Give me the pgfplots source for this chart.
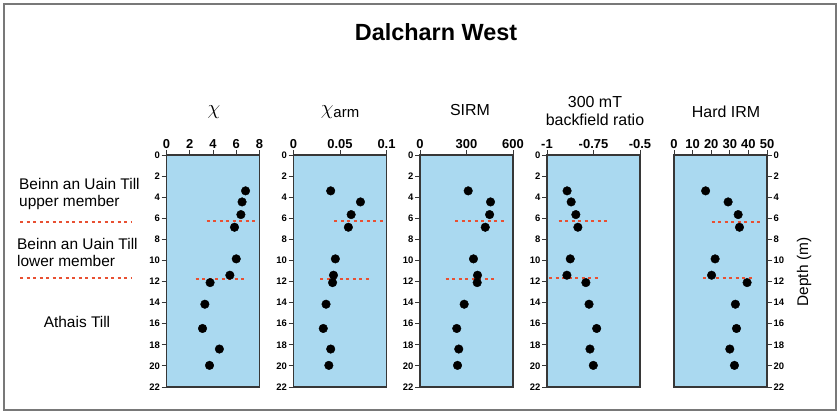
\documentclass[border=0pt]{standalone}
\usepackage{fontspec}
\setmainfont{Liberation Sans}
\usepackage{pgfplots}
\pgfplotsset{compat=1.18}
\definecolor{panelblue}{RGB}{170,217,240}
\definecolor{bndred}{RGB}{232,80,50}
\definecolor{axisgray}{RGB}{55,55,55}
\definecolor{framegray}{RGB}{120,120,120}
\pgfplotsset{
 panel/.style={
  scale only axis, width=93bp, height=232bp, anchor=south west,
  y dir=reverse, ymin=0, ymax=22, ytick={0,2,...,22},
  xtick pos=upper, xticklabel pos=upper,
  tick align=outside, major tick length=5bp,
  axis line style={axisgray, line width=1.1bp},
  every tick/.style={axisgray, line width=0.9bp},
  axis background/.style={fill=panelblue},
  /pgf/number format/assume math mode=true,
  yticklabel style={font=\fontsize{9.5}{11}\selectfont\bfseries, inner sep=1.5bp},
  xticklabel style={font=\fontsize{13}{15}\selectfont\bfseries, inner sep=1bp},
  clip=false,
 },
 pts/.style={only marks, mark=*, mark size=4.3bp, black},
 bnd/.style={bndred, line width=2bp, dash pattern=on 3bp off 3.5bp, no marks},
}
\pgfplotstableread{
d chi chiarm sirm bf hirm
3.4 6.8 0.040 311 -0.892 17.0
4.45 6.5 0.072 455 -0.870 29.1
5.65 6.4 0.062 449 -0.845 34.5
6.85 5.85 0.059 421 -0.834 35.2
9.85 6.0 0.045 345 -0.875 22.1
11.4 5.45 0.043 371 -0.893 20.2
12.1 3.75 0.042 369 -0.791 39.3
14.15 3.3 0.035 285 -0.774 33.0
16.45 3.1 0.032 237 -0.733 33.6
18.4 4.55 0.040 250 -0.769 30.0
19.95 3.7 0.038 242 -0.751 32.5
}\datatab
\begin{document}
\begin{tikzpicture}
\path (0,0) rectangle (838bp,414bp);
\draw[framegray, line width=2bp] (4bp,4bp) rectangle (835.5bp,409.5bp);
% panel 1
\begin{axis}[panel, at={(166.5bp,27bp)}, xmin=0, xmax=8, xtick={0,2,4,6,8}, xticklabels={0,2,4,6,8}, ytick pos=left]
\addplot[pts] table[x=chi, y=d] {\datatab};
\addplot[bnd] coordinates {(3.45,6.3) (7.7,6.3)};
\addplot[bnd] coordinates {(2.5,11.8) (6.7,11.8)};
\end{axis}
% panel 2
\begin{axis}[panel, at={(293.5bp,27bp)}, xmin=0, xmax=0.1, xtick={0,0.05,0.1}, xticklabels={0,0.05,0.1}, ytick pos=left]
\addplot[pts] table[x=chiarm, y=d] {\datatab};
\addplot[bnd] coordinates {(0.044,6.3) (0.0985,6.3)};
\addplot[bnd] coordinates {(0.029,11.75) (0.083,11.75)};
\end{axis}
% panel 3
\begin{axis}[panel, at={(420bp,27bp)}, xmin=0, xmax=600, xtick={0,300,600}, xticklabels={0,300,600}, ytick pos=left]
\addplot[pts] table[x=sirm, y=d] {\datatab};
\addplot[bnd] coordinates {(227,6.3) (550,6.3)};
\addplot[bnd] coordinates {(166,11.8) (490,11.8)};
\end{axis}
% panel 4
\begin{axis}[panel, at={(547bp,27bp)}, xmin=-1, xmax=-0.5, xtick={-1,-0.75,-0.5}, xticklabels={-1,-0.75,-0.5}, ytick pos=left]
\addplot[pts] table[x=bf, y=d] {\datatab};
\addplot[bnd] coordinates {(-0.937,6.3) (-0.666,6.3)};
\addplot[bnd] coordinates {(-0.989,11.65) (-0.718,11.65)};
\end{axis}
% panel 5
\begin{axis}[panel, at={(674bp,27bp)}, xmin=0, xmax=50, xtick={0,10,...,50}, xticklabels={0,10,20,30,40,50}, ytick pos=right, yticklabel pos=right]
\addplot[pts] table[x=hirm, y=d] {\datatab};
\addplot[bnd] coordinates {(20.2,6.35) (47,6.35)};
\addplot[bnd] coordinates {(15.7,11.7) (42.9,11.7)};
\end{axis}
% titles
\node[font=\fontsize{23.5}{26}\selectfont\bfseries] at (436bp,382bp) {Dalcharn West};
\node[font=\fontsize{21}{22}\selectfont] at (214bp,302bp) {$\chi$};
\node[inner sep=0pt] at (340bp,302bp) {{\fontsize{21}{22}\selectfont$\chi$}\raisebox{-0.5ex}{\fontsize{15}{17}\selectfont arm}};
\node[font=\fontsize{16}{18}\selectfont] at (470bp,304bp) {SIRM};
\node[font=\fontsize{16}{18.5}\selectfont, align=center] at (595bp,303bp) {300 mT\\backfield ratio};
\node[font=\fontsize{16}{18}\selectfont] at (726bp,302bp) {Hard IRM};
\node[font=\fontsize{15.5}{18}\selectfont, rotate=90] at (804bp,142bp) {Depth (m)};
% unit labels
\node[font=\fontsize{15.5}{18}\selectfont, align=left, anchor=west, inner sep=0pt] at (19bp,220bp) {Beinn an Uain Till\\upper member};
\node[font=\fontsize{15.5}{18}\selectfont, align=left, anchor=west, inner sep=0pt] at (17bp,161.5bp) {Beinn an Uain Till\\lower member};
\node[font=\fontsize{15.5}{18}\selectfont] at (77bp,92bp) {Athais Till};
\draw[bndred, line width=2bp, dash pattern=on 3bp off 3.5bp] (20bp,192.3bp) -- (132bp,192.3bp);
\draw[bndred, line width=2bp, dash pattern=on 3bp off 3.5bp] (20bp,136bp) -- (132bp,136bp);
\end{tikzpicture}
\end{document}
